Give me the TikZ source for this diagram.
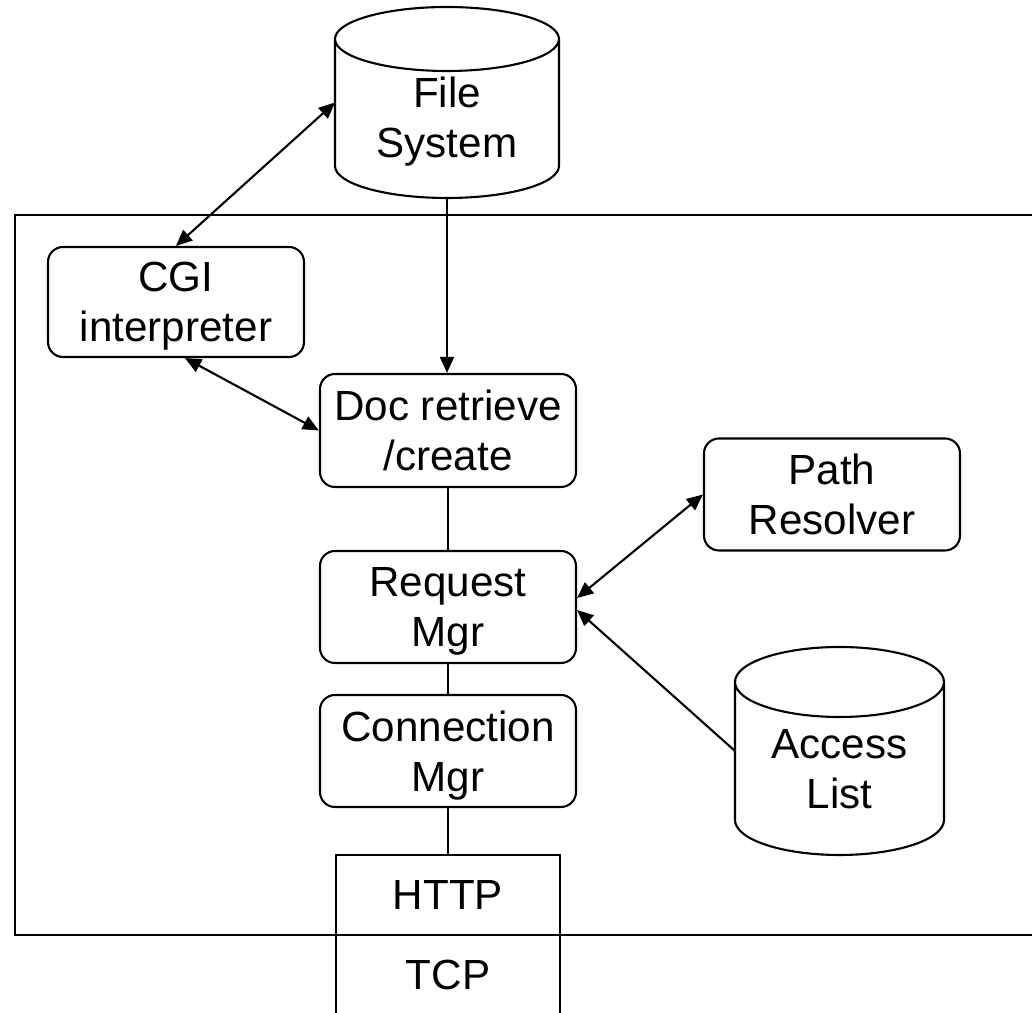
\documentclass[tikz,border=0pt]{standalone}
\usepackage{fontspec}
\setmainfont{Liberation Sans}
\usetikzlibrary{arrows.meta, calc}
\tikzset{
    block/.style={draw, rounded corners=0.15cm, minimum width=2.56cm, minimum height=1.12cm, align=center, text depth=0pt},
    layer/.style={draw, minimum width=2.24cm, minimum height=0.8cm},
    store/.style={inner sep=0, outer sep=0},
    every node/.append style={font=\fontsize{12}{14.2}\selectfont},
}
% node, x radius, y radius of the caps
\newcommand{\drawstore}[3]{%
    \draw ([yshift=-#3]#1.north west) -- ([yshift=#3]#1.south west)
        arc[start angle=180, end angle=360, x radius=#2, y radius=#3]
        -- ([yshift=-#3]#1.north east)
        arc[start angle=0, end angle=360, x radius=#2, y radius=#3];
}
\begin{document}
\begin{tikzpicture}[line width=0.6pt, >={Triangle[length=4.6pt, width=4pt]}]
    \clip (0, 0) rectangle (10.32, 10.13);

    \node[draw, minimum width=10.45cm, minimum height=7.2cm, inner sep=0] (server) at (5.375, 4.38) {};

    \node[store, minimum width=2.24cm, minimum height=1.91cm,
        label={[align=center, text depth=0pt, yshift=-0.145cm]center:File\\System}] (fs) at (4.47, 9.105) {};
    \drawstore{fs}{1.12cm}{0.32cm}

    \node[block, minimum height=1.10cm] (cgi) at (1.76, 7.11) {CGI\\interpreter};
    \node[block, minimum height=1.13cm] (doc) at (4.48, 5.825) {Doc retrieve\\/create};
    \node[block] (path) at (8.32, 5.185) {Path\\Resolver};
    \node[block] (req) at (4.48, 4.06) {Request\\Mgr};
    \node[block] (conn) at (4.48, 2.62) {Connection\\Mgr};

    \node[store, minimum width=2.09cm, minimum height=2.08cm,
        label={[align=center, text depth=0pt, yshift=-0.18cm]center:Access\\List}] (acl) at (8.395, 2.62) {};
    \drawstore{acl}{1.045cm}{0.35cm}

    \node[layer] (http) at (4.48, 1.18) {HTTP};
    \node[layer] (tcp) at (4.48, 0.38) {TCP};

    \draw[<->] (cgi.north) -- (fs.west);
    \draw[<->] ($(cgi.south)+(0.09, 0)$) -- (doc.west);
    \draw[->] (fs.south) -- (fs.south |- doc.north);
    \draw (doc) -- (req);
    \draw[<->] ($(req.east)+(0, 0.09)$) -- (path.west);
    \draw[->] (acl.west) -- ($(req.east)+(0, -0.03)$);
    \draw (req) -- (conn);
    \draw (conn) -- (http);
\end{tikzpicture}
\end{document}
